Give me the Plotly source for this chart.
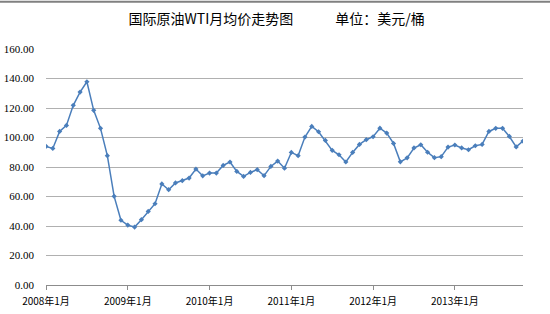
import plotly.graph_objects as go

years = [2008, 2009, 2010, 2011, 2012, 2013]
prices_2008 = [94.0, 92.6, 104.1, 108.2, 121.8, 130.8, 137.8, 118.4, 106.2, 87.7, 60.1, 43.9]
prices_2009 = [40.6, 39.3, 44.3, 49.9, 55.1, 68.5, 64.6, 69.2, 70.7, 72.5, 78.6, 74.0]
prices_2010 = [75.9, 75.9, 81.1, 83.4, 77.0, 73.6, 76.3, 78.2, 74.1, 80.4, 84.0, 79.2]
prices_2011 = [89.9, 87.7, 100.3, 107.5, 103.9, 98.0, 91.3, 88.3, 83.4, 89.9, 95.3, 98.5]
prices_2012 = [100.5, 106.3, 103.0, 96.0, 83.5, 86.2, 92.9, 95.1, 90.0, 86.3, 87.0, 93.5]
prices_2013 = [94.9, 92.9, 91.7, 94.4, 95.3, 104.1, 106.2, 106.2, 100.7, 93.6, 97.6]

prices = prices_2008 + prices_2009 + prices_2010 + prices_2011 + prices_2012 + prices_2013
months = [f"{2008 + i // 12}年{i % 12 + 1}月" for i in range(len(prices))]
x_idx = list(range(len(prices)))

tick_vals = [i for i in x_idx if i % 12 == 0]
tick_text = [months[i] for i in tick_vals]
y_ticks = [0, 20, 40, 60, 80, 100, 120, 140, 160]
y_text = [f"{v:.2f}" for v in y_ticks]

fig = go.Figure()
fig.add_trace(go.Scatter(
    x=x_idx, y=prices, mode="lines+markers",
    line=dict(color="#4A7EBB", width=1.5),
    marker=dict(color="#4A7EBB", size=4, symbol="diamond"),
    hovertext=months,
))

fig.update_layout(
    width=550, height=314,
    margin=dict(l=46, r=27, t=49, b=29),
    paper_bgcolor="white", plot_bgcolor="white",
    showlegend=False,
    title=dict(
        text="国际原油WTI月均价走势图　　　单位：美元/桶",
        x=0.503, xanchor="center", y=0.94, yanchor="middle",
        font=dict(family="Noto Sans CJK SC", size=14, color="black"),
    ),
    xaxis=dict(
        range=[0, 70], tickmode="array", tickvals=tick_vals, ticktext=tick_text,
        showgrid=False, zeroline=False, showline=True, linecolor="#8c8c8c", linewidth=1,
        ticks="outside", ticklen=4, tickcolor="#8c8c8c", ticklabelstandoff=3,
        automargin=False,
        tickfont=dict(family="Noto Sans CJK SC", size=10, color="black"),
    ),
    yaxis=dict(
        range=[0, 160], tickmode="array", tickvals=y_ticks, ticktext=y_text,
        showgrid=True, gridcolor="#b0b0b0", gridwidth=1, zeroline=False,
        showline=False, ticks="", ticklabelstandoff=11, automargin=False,
        tickfont=dict(family="Liberation Serif", size=11, color="black"),
    ),
    shapes=[dict(type="line", xref="paper", yref="paper", x0=-0.2, x1=1.2, y0=1.2, y1=1.2,
                 line=dict(color="#808080", width=2))],
)

fig.write_html("out.html")
